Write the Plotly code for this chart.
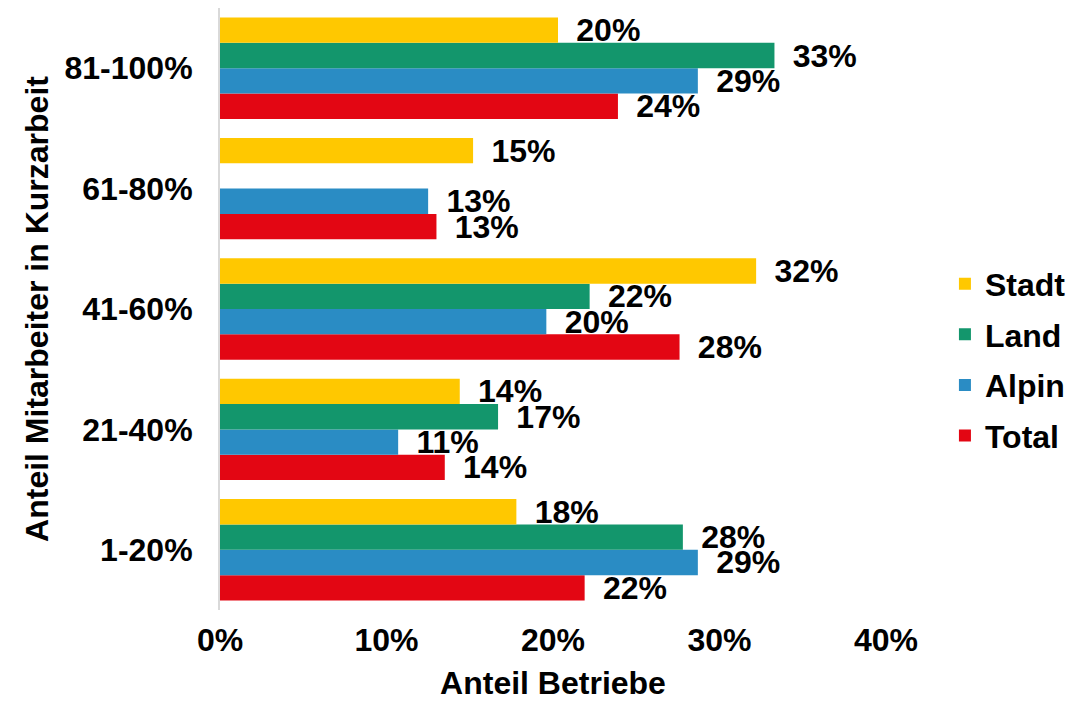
import plotly.graph_objects as go

categories = ["1-20%", "21-40%", "41-60%", "61-80%", "81-100%"]
stadt = [0.178, 0.144, 0.322, 0.152, 0.203]
land = [0.278, 0.167, 0.222, None, 0.333]
alpin = [0.287, 0.107, 0.196, 0.125, 0.287]
total = [0.219, 0.135, 0.276, 0.130, 0.239]

series = [
    ("Total", total, "#E30613", 4),
    ("Alpin", alpin, "#2A8CC4", 3),
    ("Land", land, "#13966C", 2),
    ("Stadt", stadt, "#FFC800", 1),
]

FONT = "Liberation Sans, Arial, sans-serif"
FS = 32

fig = go.Figure()
for name, vals, color, rank in series:
    fig.add_trace(go.Bar(
        name=name, y=categories, x=vals, orientation="h",
        marker=dict(color=color, line=dict(width=0)),
        texttemplate="\u00a0\u2009%{x:.0%}", textposition="outside",
        textfont=dict(family=FONT, size=FS, color="#000000", weight="bold"),
        constraintext="none", cliponaxis=False,
        legendgroup=name, legendrank=rank,
    ))

fig.update_layout(
    width=1092, height=708,
    barmode="group", bargap=0.158, bargroupgap=0,
    margin=dict(l=212, r=214, t=0, b=106, autoexpand=False),
    paper_bgcolor="white", plot_bgcolor="white",
    font=dict(family=FONT, size=FS, color="#000000", weight="bold"),
    showlegend=True,
    legend=dict(
        traceorder="grouped", tracegroupgap=6,
        xref="container", x=0.858, xanchor="left",
        yref="container", y=0.503, yanchor="middle",
        font=dict(family=FONT, size=FS, color="#000000", weight="bold"),
        bgcolor="rgba(0,0,0,0)",
    ),
    xaxis=dict(
        range=[0, 0.4], dtick=0.1, tickformat=".0%",
        showgrid=False, zeroline=False, showline=False, ticks="",
        ticklabelstandoff=8, automargin=False,
        tickfont=dict(family=FONT, size=FS, color="#000000", weight="bold"),
        title=dict(text="Anteil Betriebe", standoff=14,
                   font=dict(family=FONT, size=FS, color="#000000", weight="bold")),
    ),
    yaxis=dict(
        type="category", showgrid=False, zeroline=False,
        showline=True, linecolor="#D9D9D9", linewidth=2, ticks="",
        ticklabelstandoff=19, automargin=False,
        tickfont=dict(family=FONT, size=FS, color="#000000", weight="bold"),
        title=dict(text="Anteil Mitarbeiter in Kurzarbeit", standoff=6,
                   font=dict(family=FONT, size=FS, color="#000000", weight="bold")),
    ),
)

fig.write_html("out.html")
